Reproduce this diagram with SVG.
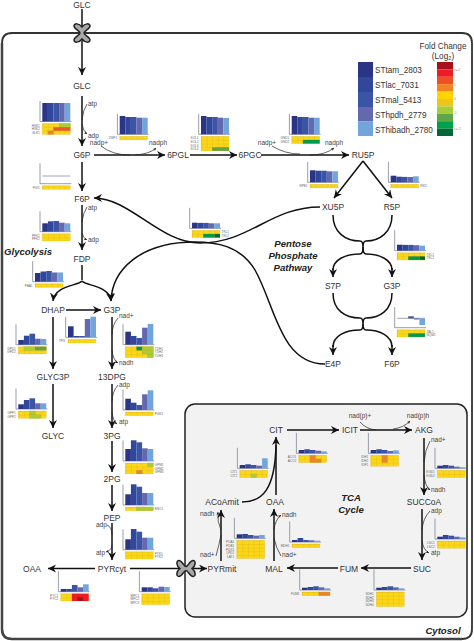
<svg xmlns="http://www.w3.org/2000/svg" width="474" height="641" viewBox="0 0 474 641">
<style>
text{font-family:"Liberation Sans",Arial,sans-serif;fill:#333}
.n{font-size:8.5px;text-anchor:middle}
.c{font-size:6.5px;fill:#444}
.cm{font-size:6.5px;fill:#444;text-anchor:middle}
.i{font-size:9.6px;font-weight:bold;font-style:italic;fill:#222;text-anchor:middle}
.l{font-size:8.2px}
.t{font-size:3.1px;fill:#666}
.e{text-anchor:end}
.u{font-size:3px;fill:#777}
.m{fill:none;stroke:#111;stroke-width:1.5}
.a{fill:none;stroke:#222;stroke-width:.7}
.ax{fill:none;stroke:#8f93a3;stroke-width:.9}
.b1{fill:#2a3585}.b2{fill:#31479b}.b3{fill:#3a55a5}.b4{fill:#6468ae}.b5{fill:#72a5dc}
.hm{fill:url(#hp);stroke:#d4ab1c;stroke-width:.2}
.lm,.gn,.dg,.dk,.og,.rd,.dr{stroke:#b9951d;stroke-width:.2}
.lm{fill:#a6ce39}.gn{fill:#5fa646}.dg{fill:#009a4e}.dk{fill:#006838}.og{fill:#e8862a}.rd{fill:#ed1c24}.dr{fill:#a5121c}
.tr{fill:#a9a9a9;stroke:#222;stroke-width:1.5}
</style>
<defs>
<marker id="ar" markerUnits="userSpaceOnUse" markerWidth="9" markerHeight="9" refX="8" refY="4" orient="auto"><path d="M8,4 L0,0 L2.5,4 L0,8Z" fill="#111"/></marker>
<marker id="as" markerUnits="userSpaceOnUse" markerWidth="4" markerHeight="4" refX="3" refY="1.5" orient="auto"><path d="M3,1.5 L0,0 L.8,1.5 L0,3Z" fill="#222"/></marker>
<pattern id="hp" patternUnits="userSpaceOnUse" x="0" y="2" width="5.6" height="3.65"><rect width="5.6" height="3.65" fill="#fbd716"/><path d="M0,0H5.6M0,0V3.65" stroke="#c9a227" stroke-width=".45" fill="none"/></pattern>
<path id="ax" class="ax" d="M-2.3,-20.5V0H29"/>
<path id="tp" class="tr" d="M-2,0 C-2,-2 -8,-4 -8,-7 C-8,-10 -3,-10 0,-6 C3,-10 8,-10 8,-7 C8,-4 2,-2 2,0 C2,2 8,4 8,7 C8,10 3,10 0,6 C-3,10 -8,10 -8,7 C-8,4 -2,2 -2,0Z"/>
</defs>

<g id="membrane">
<path d="M2,43 Q2,33 12,33 H462 Q472,33 472,43 V629 Q472,639 462,639 H12 Q2,639 2,629Z" fill="#fff" stroke="#333" stroke-width="1.8"/>
<path d="M2,43 V629 Q2,639 12,639 H462" fill="none" stroke="#444" stroke-width="2.5"/>
<rect x="185" y="404" width="282" height="213" rx="10" fill="#f2f2f2" stroke="#222" stroke-width="1.5"/>
</g>

<g id="connectors">
<g class="m">
<path marker-end="url(#ar)" d="M82,9V75"/>
<path marker-end="url(#ar)" d="M82,96V146"/>
<path marker-end="url(#ar)" d="M94,155H165"/>
<path marker-end="url(#ar)" d="M190,155H237"/>
<path marker-end="url(#ar)" d="M261,155H349"/>
<path marker-end="url(#ar)" d="M82,162V191"/>
<path marker-end="url(#ar)" d="M82,205V250"/>
<path marker-end="url(#ar)" d="M320,207C270,207 250,243 200,243C160,243 130,198 94,198"/>
<path marker-end="url(#ar)" d="M325,364C280,364 275,305 255,270C240,245 215,242 195,242C140,242 112,270 111,301"/>
<path d="M82,265V280"/>
<path marker-end="url(#ar)" d="M82,281C78,286 55,285 53,301"/>
<path marker-end="url(#ar)" d="M82,281C86,286 109,285 111,301"/>
<path marker-end="url(#ar)" d="M66,310H101"/>
<path marker-end="url(#ar)" d="M53,317V369"/>
<path marker-end="url(#ar)" d="M112,317V369"/>
<path marker-end="url(#ar)" d="M53,384V428"/>
<path marker-end="url(#ar)" d="M112,384V428"/>
<path marker-end="url(#ar)" d="M112,441V472"/>
<path marker-end="url(#ar)" d="M112,485V511"/>
<path marker-end="url(#ar)" d="M112,523V560"/>
<path marker-end="url(#ar)" d="M95,568.5H48"/>
<path marker-end="url(#ar)" d="M130,568.5H207"/>
<path marker-end="url(#ar)" d="M221,561V510"/>
<path marker-end="url(#ar)" d="M274,561V509"/>
<path marker-end="url(#ar)" d="M276,495V437"/>
<path d="M242,502C262,502 275,490 276,445"/>
<path marker-end="url(#ar)" d="M287,430H339"/>
<path marker-end="url(#ar)" d="M360,430H412"/>
<path marker-end="url(#ar)" d="M424,438V495"/>
<path marker-end="url(#ar)" d="M422,509V560"/>
<path marker-end="url(#ar)" d="M411,568H361"/>
<path marker-end="url(#ar)" d="M338,568H287"/>
<path marker-end="url(#ar)" d="M363,161L334,198"/>
<path marker-end="url(#ar)" d="M363,161L392,198"/>
<path d="M333,215C333,232 345,241 360,241C362,241 363,243 363,247C363,243 364,241 366,241C380,241 392,232 392,215M363,247C363,252 362,254 360,254C345,254 333,260 333,270"/>
<path d="M363,247C363,252 364,254 366,254C380,254 392,260 392,270"/>
<path marker-end="url(#ar)" d="M333,268V277"/>
<path marker-end="url(#ar)" d="M392,268V277"/>
<path d="M333,293C333,310 345,318 360,318C362,318 363,320 363,324C363,320 364,318 366,318C380,318 392,310 392,293M363,324C363,328 362,330 360,330C345,330 333,336 333,347"/>
<path d="M363,324C363,328 364,330 366,330C380,330 392,336 392,347"/>
<path marker-end="url(#ar)" d="M333,345V355"/>
<path marker-end="url(#ar)" d="M392,345V355"/>
</g>
<g class="a">
<path d="M87,104Q83,110 82,120"/><path marker-end="url(#as)" d="M82,124Q83,131 87,134"/>
<path d="M101,146Q112,155 130,155"/><path marker-end="url(#as)" d="M135,155Q150,154 156,148"/>
<path d="M272,146Q285,154 300,154"/><path marker-end="url(#as)" d="M310,155Q325,155 334,148"/>
<path d="M87,207Q83,213 82,222"/><path marker-end="url(#as)" d="M82,233Q83,238 87,240"/>
<path d="M118,318Q112,325 112,335"/><path marker-end="url(#as)" d="M112,350Q113,360 118,363"/>
<path d="M118,385Q112,392 112,402"/><path marker-end="url(#as)" d="M112,412Q113,421 117,424"/>
<path d="M107,525Q112,527 112,535"/><path marker-end="url(#as)" d="M112,545Q112,550 106,552"/>
<path d="M216,556Q219,545 221,535"/><path marker-end="url(#as)" d="M221,530Q217,522 218,512"/>
<path d="M281,556Q276,548 274,538"/><path marker-end="url(#as)" d="M274,530Q275,520 281,515"/>
<path d="M360,422Q366,429 376,430"/><path marker-end="url(#as)" d="M393,429Q403,428 410,421"/>
<path d="M430,441Q425,450 424,462"/><path marker-end="url(#as)" d="M424,475Q425,486 430,490"/>
<path d="M430,511Q423,518 422,530"/><path marker-end="url(#as)" d="M422,540Q423,550 429,553"/>
</g>
</g>

<g id="transporter-glc"><use href="#tp" x="82" y="33"/></g>
<g id="transporter-pyr"><use href="#tp" transform="translate(186,568.5) rotate(90)"/></g>

<g id="labels">
<text class="n" x="82" y="7.500">GLC</text><text class="n" x="82" y="89">GLC</text><text class="n" x="82" y="158">G6P</text><text class="n" x="178" y="158">6PGL</text><text class="n" x="250" y="158">6PGC</text><text class="n" x="363" y="158">RU5P</text><text class="n" x="82" y="202">F6P</text><text class="n" x="333" y="210">XU5P</text><text class="n" x="392" y="210">R5P</text><text class="n" x="82" y="262">FDP</text><text class="n" x="53" y="313">DHAP</text><text class="n" x="112" y="313">G3P</text><text class="n" x="53" y="380">GLYC3P</text><text class="n" x="112" y="380">13DPG</text><text class="n" x="53" y="439">GLYC</text><text class="n" x="112" y="439">3PG</text><text class="n" x="112" y="482">2PG</text><text class="n" x="112" y="521">PEP</text><text class="n" x="112" y="572">PYRcyt</text><text class="n" x="32" y="572">OAA</text><text class="n" x="222" y="572">PYRmit</text><text class="n" x="274" y="571.5">MAL</text><text class="n" x="349" y="571.5">FUM</text><text class="n" x="422" y="571.5">SUC</text><text class="n" x="424" y="505">SUCCoA</text><text class="n" x="424" y="433">AKG</text><text class="n" x="350" y="433">ICIT</text><text class="n" x="276" y="433">CIT</text><text class="n" x="275" y="505">OAA</text><text class="n" x="222" y="505">ACoAmit</text><text class="n" x="333" y="289">S7P</text><text class="n" x="392" y="289">G3P</text><text class="n" x="333" y="367">E4P</text><text class="n" x="392" y="367">F6P</text>
<text class="c" x="88" y="106">atp</text><text class="c" x="88" y="138">adp</text><text class="cm" x="99" y="145">nadp+</text><text class="cm" x="158" y="145">nadph</text><text class="cm" x="267" y="145">nadp+</text><text class="cm" x="334" y="145">nadph</text><text class="c" x="88" y="210">atp</text><text class="c" x="88" y="242">adp</text><text class="c" x="119" y="318">nad+</text><text class="c" x="119" y="365">nadh</text><text class="c" x="119" y="387">adp</text><text class="c" x="119" y="424">atp</text><text class="c" x="96" y="527">adp</text><text class="c" x="96" y="555">atp</text><text class="c" x="200" y="516">nadh</text><text class="c" x="200" y="557">nad+</text><text class="c" x="282" y="517">nadh</text><text class="c" x="282" y="557">nad+</text><text class="cm" x="360" y="418">nad(p)+</text><text class="cm" x="418" y="418">nad(p)h</text><text class="c" x="431" y="442">nad+</text><text class="c" x="431" y="492">nadh</text><text class="c" x="431" y="513">adp</text><text class="c" x="431" y="555">atp</text>
<text class="i" x="28" y="255">Glycolysis</text><text class="i" x="293" y="247">Pentose</text><text class="i" x="293" y="259">Phosphate</text><text class="i" x="293" y="271">Pathway</text><text class="i" x="351" y="501">TCA</text><text class="i" x="351" y="513">Cycle</text><text class="i" x="443" y="634">Cytosol</text>
</g>

<g id="legend">
<rect class="b1" x="358" y="62" width="15" height="15"/><rect class="b2" x="358" y="77" width="15" height="15"/><rect class="b3" x="358" y="92" width="15" height="15"/><rect class="b4" x="358" y="107" width="15" height="14.5"/><rect class="b5" x="358" y="121.5" width="15" height="14.5"/>
<text class="l" x="375" y="73">STtam_2803</text><text class="l" x="375" y="88">STlac_7031</text><text class="l" x="375" y="103">STmal_5413</text><text class="l" x="375" y="118">SThpdh_2779</text><text class="l" x="375" y="132.500">SThibadh_2780</text>
<text class="l" x="443" y="49" text-anchor="middle">Fold Change</text><text class="l" x="443" y="59" text-anchor="middle">(Log₂)</text>
<rect x="437" y="62" width="16" height="7.4" fill="#a5121c"/><rect x="437" y="69.400" width="16" height="7.4" fill="#ed1c24"/><rect x="437" y="76.800" width="16" height="7.4" fill="#f04e23"/><rect x="437" y="84.200" width="16" height="7.4" fill="#f58220"/><rect x="437" y="91.600" width="16" height="7.4" fill="#ffd400"/><rect x="437" y="99" width="16" height="7.4" fill="#eec61a"/><rect x="437" y="106.400" width="16" height="7.4" fill="#a6ce39"/><rect x="437" y="113.800" width="16" height="7.4" fill="#5fa646"/><rect x="437" y="121.200" width="16" height="7.4" fill="#00a14b"/><rect x="437" y="128.600" width="16" height="7.4" fill="#006838"/>
<text class="u" x="454" y="71">&gt;= 2</text><text class="u" x="454" y="85.500">1</text><text class="u" x="454" y="100">0</text><text class="u" x="454" y="114">-1</text><text class="u" x="454" y="130">&lt;= -2</text>
</g>

<g id="chart-hxk" transform="translate(42.3,121.5)"><use href="#ax"/><rect class="b1" x="0" y="-18.5" width="5.6" height="18.5"/><rect class="b2" x="5.6" y="-18.5" width="5.6" height="18.5"/><rect class="b3" x="11.2" y="-18.5" width="5.6" height="18.5"/><rect class="b4" x="16.8" y="-18.5" width="5.6" height="18.5"/><rect class="b5" x="22.4" y="-18.5" width="5.6" height="18.5"/><rect class="hm" y="2" width="28" height="10.95"/><rect class="lm" x="16.8" y="2" width="11.2" height="3.65"/><rect class="og" x="11.2" y="5.65" width="16.8" height="3.65" style="fill:#ea5a24"/><rect class="og" x="5.6" y="9.3" width="5.6" height="3.65"/><text class="t e" x="-2.5" y="5">HXK1</text><text class="t e" x="-2.5" y="8.700">HXK2</text><text class="t e" x="-2.5" y="12.300">GLK1</text></g>

<g id="chart-zwf" transform="translate(119.7,134.3)"><use href="#ax"/><rect class="b1" x="0" y="-18.3" width="5.6" height="18.3"/><rect class="b2" x="5.6" y="-17.3" width="5.6" height="17.3"/><rect class="b3" x="11.2" y="-17.3" width="5.6" height="17.3"/><rect class="b4" x="16.8" y="-16.6" width="5.6" height="16.6"/><rect class="b5" x="22.4" y="-16.6" width="5.6" height="16.6"/><rect class="hm" y="2" width="28" height="3.65"/><text class="t e" x="-2.5" y="5">ZWF1</text></g>

<g id="chart-sol" transform="translate(201,134.3)"><use href="#ax"/><rect class="b1" x="0" y="-18.3" width="5.6" height="18.3"/><rect class="b2" x="5.6" y="-17.3" width="5.6" height="17.3"/><rect class="b3" x="11.2" y="-17.3" width="5.6" height="17.3"/><rect class="b4" x="16.8" y="-16.6" width="5.6" height="16.6"/><rect class="b5" x="22.4" y="-16.3" width="5.6" height="16.3"/><rect class="hm" y="2" width="28" height="14.6"/><rect class="gn" x="11.2" y="12.95" width="16.8" height="3.65"/><text class="t e" x="-2.5" y="5">SOL1</text><text class="t e" x="-2.5" y="8.700">SOL2</text><text class="t e" x="-2.5" y="12.300">SOL3</text><text class="t e" x="-2.5" y="16">SOL4</text></g>

<g id="chart-gnd" transform="translate(291.7,134.3)"><use href="#ax"/><rect class="b1" x="0" y="-18.3" width="5.6" height="18.3"/><rect class="b2" x="5.6" y="-17.3" width="5.6" height="17.3"/><rect class="b3" x="11.2" y="-17.3" width="5.6" height="17.3"/><rect class="b4" x="16.8" y="-16.6" width="5.6" height="16.6"/><rect class="b5" x="22.4" y="-16.6" width="5.6" height="16.6"/><rect class="hm" y="2" width="28" height="7.3"/><rect class="dg" x="11.2" y="5.65" width="16.8" height="3.65"/><text class="t e" x="-2.5" y="5">GND1</text><text class="t e" x="-2.5" y="8.700">GND2</text></g>

<g id="chart-pgi" transform="translate(42.3,183.7)"><use href="#ax"/><path d="M0,-7.700H28" stroke="#8878a8" stroke-width=".7" fill="none"/><rect class="hm" y="2" width="28" height="3.65"/><text class="t e" x="-2.5" y="5">PGI1</text></g>

<g id="chart-rpe" transform="translate(310,182.3)"><use href="#ax"/><rect class="b1" x="0" y="-12" width="5.6" height="12"/><rect class="b2" x="5.6" y="-11.6" width="5.6" height="11.6"/><rect class="b3" x="11.2" y="-11.6" width="5.6" height="11.6"/><rect class="b4" x="16.8" y="-11" width="5.6" height="11"/><rect class="b5" x="22.4" y="-11" width="5.6" height="11"/><rect class="hm" y="2" width="28" height="3.65"/><text class="t e" x="-2.5" y="5">RPE1</text></g>

<g id="chart-rki" transform="translate(390.7,182.3)"><use href="#ax"/><rect class="b1" x="0" y="-6.6" width="5.6" height="6.6"/><rect class="b2" x="5.6" y="-5.6" width="5.6" height="5.6"/><rect class="b3" x="11.2" y="-5.4" width="5.6" height="5.4"/><rect class="b4" x="16.8" y="-5.3" width="5.6" height="5.3"/><rect class="b5" x="22.4" y="-6" width="5.6" height="6"/><rect class="hm" y="2" width="28" height="3.65"/><text class="t" x="29.5" y="5">RKI1</text></g>

<g id="chart-tkl-a" transform="translate(192,228.3)"><use href="#ax"/><rect class="b1" x="0" y="-5.6" width="5.6" height="5.6"/><rect class="b2" x="5.6" y="-5.4" width="5.6" height="5.4"/><rect class="b3" x="11.2" y="-5.4" width="5.6" height="5.4"/><rect class="b4" x="16.8" y="-5" width="5.6" height="5"/><rect class="b5" x="22.4" y="-5" width="5.6" height="5"/><rect class="hm" y="2" width="28" height="7.3"/><rect class="dg" x="11.2" y="5.65" width="11.2" height="3.65"/><rect class="dk" x="22.4" y="5.65" width="5.6" height="3.65"/><text class="t" x="29.5" y="5">TKL1</text><text class="t" x="29.5" y="8.700">TKL2</text></g>

<g id="chart-tkl-b" transform="translate(397,250.7)"><use href="#ax"/><rect class="b1" x="0" y="-6" width="5.6" height="6"/><rect class="b2" x="5.6" y="-5.8" width="5.6" height="5.8"/><rect class="b3" x="11.2" y="-5.8" width="5.6" height="5.8"/><rect class="b4" x="16.8" y="-5.5" width="5.6" height="5.5"/><rect class="b5" x="22.4" y="-5" width="5.6" height="5"/><rect class="hm" y="2" width="28" height="7.3"/><rect class="dg" x="11.2" y="5.65" width="11.2" height="3.65"/><rect class="dk" x="22.4" y="5.65" width="5.6" height="3.65"/><text class="t" x="29.5" y="5">TKL1</text><text class="t" x="29.5" y="8.700">TKL2</text></g>

<g id="chart-tal" transform="translate(397,327.7)"><use href="#ax"/><path d="M0,-9.400H28" stroke="#666" stroke-width=".6" fill="none"/><rect class="b3" x="11.2" y="-11.4" width="5.6" height="2"/><rect class="b4" x="16.8" y="-9.4" width="5.6" height="1.2"/><rect class="b5" x="22.4" y="-9.4" width="5.6" height="6.7"/><rect class="hm" y="2" width="28" height="7.3"/><rect class="dg" x="11.2" y="5.65" width="16.8" height="3.65"/><text class="t" x="29.5" y="5">TAL1</text><text class="t" x="29.5" y="8.700">NQM1</text></g>

<g id="chart-pfk" transform="translate(42.3,231.7)"><use href="#ax"/><rect class="b1" x="0" y="-8.4" width="5.6" height="8.4"/><rect class="b2" x="5.6" y="-10.4" width="5.6" height="10.4"/><rect class="b3" x="11.2" y="-10.7" width="5.6" height="10.7"/><rect class="b4" x="16.8" y="-9" width="5.6" height="9"/><rect class="b5" x="22.4" y="-8.4" width="5.6" height="8.4"/><rect class="hm" y="2" width="28" height="7.3"/><text class="t e" x="-2.5" y="5">PFK1</text><text class="t e" x="-2.5" y="8.700">PFK2</text></g>

<g id="chart-fba" transform="translate(35,281.7)"><use href="#ax"/><rect class="b1" x="0" y="-8.7" width="5.6" height="8.7"/><rect class="b2" x="5.6" y="-10.2" width="5.6" height="10.2"/><rect class="b3" x="11.2" y="-10.7" width="5.6" height="10.7"/><rect class="b4" x="16.8" y="-9.2" width="5.6" height="9.2"/><rect class="b5" x="22.4" y="-9.2" width="5.6" height="9.2"/><rect class="hm" y="2" width="28" height="3.65"/><text class="t e" x="-2.5" y="5">FBA1</text></g>

<g id="chart-tpi" transform="translate(68,337.3)"><use href="#ax"/><rect class="b1" x="0" y="-11" width="5.6" height="11"/><rect class="b2" x="5.6" y="-1.3" width="5.6" height="1.3"/><rect class="b3" x="11.2" y="-1.3" width="5.6" height="1.3"/><rect class="b4" x="16.8" y="-18.3" width="5.6" height="18.3"/><rect class="b5" x="22.4" y="-20.6" width="5.6" height="20.6"/><rect class="hm" y="2" width="28" height="3.65"/><text class="t e" x="-2.5" y="5">TPI1</text></g>

<g id="chart-gpd" transform="translate(18.3,344.7)"><use href="#ax"/><rect class="b1" x="0" y="-4.7" width="5.6" height="4.7"/><rect class="b2" x="5.6" y="-9" width="5.6" height="9"/><rect class="b3" x="11.2" y="-11" width="5.6" height="11"/><rect class="b4" x="16.8" y="-6" width="5.6" height="6"/><rect class="b5" x="22.4" y="-5.7" width="5.6" height="5.7"/><rect class="hm" y="2" width="28" height="7.3"/><rect class="lm" x="5.6" y="2" width="11.2" height="3.65"/><rect class="gn" x="16.8" y="2" width="11.2" height="3.65"/><text class="t e" x="-2.5" y="5">GPD1</text><text class="t e" x="-2.5" y="8.700">GPD2</text></g>

<g id="chart-tdh" transform="translate(125.3,344.7)"><use href="#ax"/><rect class="b1" x="0" y="-13" width="5.6" height="13"/><rect class="b2" x="5.6" y="-8.7" width="5.6" height="8.7"/><rect class="b3" x="11.2" y="-6.7" width="5.6" height="6.7"/><rect class="b4" x="16.8" y="-17" width="5.6" height="17"/><rect class="b5" x="22.4" y="-20.7" width="5.6" height="20.7"/><rect class="hm" y="2" width="28" height="10.95"/><rect class="dg" x="11.2" y="2" width="5.6" height="3.65"/><rect class="lm" x="16.8" y="2" width="11.2" height="3.65"/><rect class="lm" x="16.8" y="5.65" width="11.2" height="3.65"/><rect class="lm" x="22.4" y="9.3" width="5.6" height="3.65"/><text class="t" x="29.5" y="5">TDH1</text><text class="t" x="29.5" y="8.700">TDH2</text><text class="t" x="29.5" y="12.300">TDH3</text></g>

<g id="chart-gpp" transform="translate(18.3,409)"><use href="#ax"/><rect class="b1" x="0" y="-4.7" width="5.6" height="4.7"/><rect class="b2" x="5.6" y="-9" width="5.6" height="9"/><rect class="b3" x="11.2" y="-10.7" width="5.6" height="10.7"/><rect class="b4" x="16.8" y="-5.7" width="5.6" height="5.7"/><rect class="b5" x="22.4" y="-5.7" width="5.6" height="5.7"/><rect class="hm" y="2" width="28" height="7.3"/><rect class="lm" x="11.2" y="2" width="5.6" height="3.65"/><rect class="lm" x="11.2" y="5.65" width="11.2" height="3.65"/><text class="t e" x="-2.5" y="5">GPP1</text><text class="t e" x="-2.5" y="8.700">GPP2</text></g>

<g id="chart-pgk" transform="translate(125.3,410)"><use href="#ax"/><rect class="b1" x="0" y="-11.3" width="5.6" height="11.3"/><rect class="b2" x="5.6" y="-7.3" width="5.6" height="7.3"/><rect class="b3" x="11.2" y="-5" width="5.6" height="5"/><rect class="b4" x="16.8" y="-15.7" width="5.6" height="15.7"/><rect class="b5" x="22.4" y="-19.7" width="5.6" height="19.7"/><rect class="hm" y="2" width="28" height="3.65"/><text class="t" x="29.5" y="5">PGK1</text></g>

<g id="chart-gpm" transform="translate(125.3,461)"><use href="#ax"/><rect class="b1" x="0" y="-12" width="5.6" height="12"/><rect class="b2" x="5.6" y="-20.7" width="5.6" height="20.7"/><rect class="b3" x="11.2" y="-18.7" width="5.6" height="18.7"/><rect class="b4" x="16.8" y="-12.7" width="5.6" height="12.7"/><rect class="b5" x="22.4" y="-12" width="5.6" height="12"/><rect class="hm" y="2" width="28" height="10.95"/><rect class="lm" x="22.4" y="2" width="5.6" height="3.65"/><rect class="og" x="11.2" y="9.3" width="5.6" height="3.65"/><text class="t" x="29.5" y="5">GPM1</text><text class="t" x="29.5" y="8.700">GPM2</text><text class="t" x="29.5" y="12.300">GPM3</text></g>

<g id="chart-eno" transform="translate(125.3,505)"><use href="#ax"/><rect class="b1" x="0" y="-10.7" width="5.6" height="10.7"/><rect class="b2" x="5.6" y="-20.7" width="5.6" height="20.7"/><rect class="b3" x="11.2" y="-18.3" width="5.6" height="18.3"/><rect class="b4" x="16.8" y="-12" width="5.6" height="12"/><rect class="b5" x="22.4" y="-12" width="5.6" height="12"/><rect class="hm" y="2" width="28" height="3.65"/><rect class="lm" x="11.2" y="2" width="16.8" height="3.65"/><text class="t" x="29.5" y="5">ENO1</text></g>

<g id="chart-pyk" transform="translate(125.3,549.7)"><use href="#ax"/><rect class="b1" x="0" y="-10.4" width="5.6" height="10.4"/><rect class="b2" x="5.6" y="-20.7" width="5.6" height="20.7"/><rect class="b3" x="11.2" y="-18" width="5.6" height="18"/><rect class="b4" x="16.8" y="-12" width="5.6" height="12"/><rect class="b5" x="22.4" y="-12" width="5.6" height="12"/><rect class="hm" y="2" width="28" height="7.3"/><text class="t" x="29.5" y="5">PYK1</text><text class="t" x="29.5" y="8.700">PYK2</text></g>

<g id="chart-pyc" transform="translate(60.7,591.7)"><use href="#ax"/><rect class="b1" x="0" y="-2.7" width="5.6" height="2.7"/><rect class="b2" x="5.6" y="-2.7" width="5.6" height="2.7"/><rect class="b3" x="11.2" y="-6.7" width="5.6" height="6.7"/><rect class="b4" x="16.8" y="-4.4" width="5.6" height="4.4"/><rect class="b5" x="22.4" y="-7.4" width="5.6" height="7.4"/><rect class="hm" y="2" width="28" height="7.3"/><rect class="rd" x="11.2" y="2" width="16.8" height="7.3" style="stroke:none"/><rect class="dr" x="16.8" y="5.65" width="5.6" height="3.65" style="stroke:none"/><text class="t e" x="-2.5" y="5">PYC1</text><text class="t e" x="-2.5" y="8.700">PYC2</text></g>

<g id="chart-mpc" transform="translate(141.7,591.7)"><use href="#ax"/><rect class="b1" x="0" y="-4.4" width="5.6" height="4.4"/><rect class="b2" x="5.6" y="-4.4" width="5.6" height="4.4"/><rect class="b3" x="11.2" y="-3.4" width="5.6" height="3.4"/><rect class="b4" x="16.8" y="-5" width="5.6" height="5"/><rect class="b5" x="22.4" y="-4.7" width="5.6" height="4.7"/><rect class="hm" y="2" width="28" height="10.95"/><text class="t e" x="-2.5" y="5">MPC1</text><text class="t e" x="-2.5" y="8.700">MPC2</text><text class="t e" x="-2.5" y="12.300">MPC3</text></g>

<g id="chart-cit" transform="translate(239.7,468.3)"><use href="#ax"/><rect class="b1" x="0" y="-3.3" width="5.6" height="3.3"/><rect class="b2" x="5.6" y="-4" width="5.6" height="4"/><rect class="b3" x="11.2" y="-3.3" width="5.6" height="3.3"/><rect class="b4" x="16.8" y="-2.6" width="5.6" height="2.6"/><rect class="b5" x="22.4" y="-10" width="5.6" height="10"/><rect class="hm" y="2" width="28" height="7.3"/><rect class="lm" x="11.2" y="5.65" width="5.6" height="3.65"/><text class="t e" x="-2.5" y="5">CIT1</text><text class="t e" x="-2.5" y="8.700">CIT2</text></g>

<g id="chart-aco" transform="translate(298.7,453.3)"><use href="#ax"/><rect class="b1" x="0" y="-3.3" width="5.6" height="3.3"/><rect class="b2" x="5.6" y="-4" width="5.6" height="4"/><rect class="b3" x="11.2" y="-3.3" width="5.6" height="3.3"/><rect class="b4" x="16.8" y="-2.6" width="5.6" height="2.6"/><rect class="b5" x="22.4" y="-2" width="5.6" height="2"/><rect class="hm" y="2" width="28" height="7.3"/><rect class="og" x="11.2" y="2" width="5.6" height="7.3"/><rect class="og" x="16.8" y="5.65" width="5.6" height="3.65"/><text class="t e" x="-2.5" y="5">ACO1</text><text class="t e" x="-2.5" y="8.700">ACO2</text></g>

<g id="chart-idh" transform="translate(370.7,453.3)"><use href="#ax"/><rect class="b1" x="0" y="-3.3" width="5.6" height="3.3"/><rect class="b2" x="5.6" y="-4" width="5.6" height="4"/><rect class="b3" x="11.2" y="-3.3" width="5.6" height="3.3"/><rect class="b4" x="16.8" y="-2.3" width="5.6" height="2.3"/><rect class="b5" x="22.4" y="-3" width="5.6" height="3"/><rect class="hm" y="2" width="28" height="10.95"/><rect class="og" x="11.2" y="2" width="5.6" height="7.3"/><text class="t e" x="-2.5" y="5">IDH1</text><text class="t e" x="-2.5" y="8.700">IDH2</text><text class="t e" x="-2.5" y="12.300">IDP1</text></g>

<g id="chart-kgd" transform="translate(437.3,468.3)"><use href="#ax"/><rect class="b1" x="0" y="-2.6" width="5.6" height="2.6"/><rect class="b2" x="5.6" y="-3.3" width="5.6" height="3.3"/><rect class="b3" x="11.2" y="-2.6" width="5.6" height="2.6"/><rect class="b4" x="16.8" y="-1.6" width="5.6" height="1.6"/><rect class="b5" x="22.4" y="-1" width="5.6" height="1"/><rect class="hm" y="2" width="28" height="7.3"/><text class="t e" x="-2.5" y="5">KGD1</text><text class="t e" x="-2.5" y="8.700">KGD2</text></g>

<g id="chart-pdh" transform="translate(236.7,538.3)"><use href="#ax"/><rect class="b1" x="0" y="-4" width="5.6" height="4"/><rect class="b2" x="5.6" y="-4.3" width="5.6" height="4.3"/><rect class="b3" x="11.2" y="-3.3" width="5.6" height="3.3"/><rect class="b4" x="16.8" y="-2.6" width="5.6" height="2.6"/><rect class="b5" x="22.4" y="-3.3" width="5.6" height="3.3"/><rect class="hm" y="2" width="28" height="18.25"/><text class="t e" x="-2.5" y="5">PDA1</text><text class="t e" x="-2.5" y="8.700">PDB1</text><text class="t e" x="-2.5" y="12.300">PDX1</text><text class="t e" x="-2.5" y="16">LPD1</text><text class="t e" x="-2.5" y="19.600">LAT1</text></g>

<g id="chart-mdh" transform="translate(292,542)"><use href="#ax"/><rect class="b1" x="0" y="-2" width="5.6" height="2"/><rect class="b2" x="5.6" y="-4" width="5.6" height="4"/><rect class="b3" x="11.2" y="-2" width="5.6" height="2"/><rect class="b4" x="16.8" y="-1.7" width="5.6" height="1.7"/><rect class="b5" x="22.4" y="-1.3" width="5.6" height="1.3"/><rect class="hm" y="2" width="28" height="3.65"/><text class="t e" x="-2.5" y="5">MDH1</text></g>

<g id="chart-fum" transform="translate(302,590)"><use href="#ax"/><rect class="b1" x="0" y="-2.3" width="5.6" height="2.3"/><rect class="b2" x="5.6" y="-3" width="5.6" height="3"/><rect class="b3" x="11.2" y="-3.7" width="5.6" height="3.7"/><rect class="b4" x="16.8" y="-2.7" width="5.6" height="2.7"/><rect class="b5" x="22.4" y="-1.7" width="5.6" height="1.7"/><rect class="hm" y="2" width="28" height="3.65"/><rect class="og" x="16.8" y="2" width="11.2" height="3.65"/><text class="t e" x="-2.5" y="5">FUM1</text></g>

<g id="chart-sdh" transform="translate(376.3,590)"><use href="#ax"/><rect class="b1" x="0" y="-2.3" width="5.6" height="2.3"/><rect class="b2" x="5.6" y="-3" width="5.6" height="3"/><rect class="b3" x="11.2" y="-3.7" width="5.6" height="3.7"/><rect class="b4" x="16.8" y="-2.7" width="5.6" height="2.7"/><rect class="b5" x="22.4" y="-1.7" width="5.6" height="1.7"/><rect class="hm" y="2" width="28" height="14.6"/><text class="t e" x="-2.5" y="5">SDH1</text><text class="t e" x="-2.5" y="8.700">SDH2</text><text class="t e" x="-2.5" y="12.300">SDH3</text><text class="t e" x="-2.5" y="16">SDH4</text></g>

<g id="chart-lsc" transform="translate(437.3,539)"><use href="#ax"/><rect class="b1" x="0" y="-2.3" width="5.6" height="2.3"/><rect class="b2" x="5.6" y="-4" width="5.6" height="4"/><rect class="b3" x="11.2" y="-3.3" width="5.6" height="3.3"/><rect class="b4" x="16.8" y="-2.3" width="5.6" height="2.3"/><rect class="b5" x="22.4" y="-1.7" width="5.6" height="1.7"/><rect class="hm" y="2" width="28" height="7.3"/><text class="t e" x="-2.5" y="5">LSC1</text><text class="t e" x="-2.5" y="8.700">LSC2</text></g>
</svg>
